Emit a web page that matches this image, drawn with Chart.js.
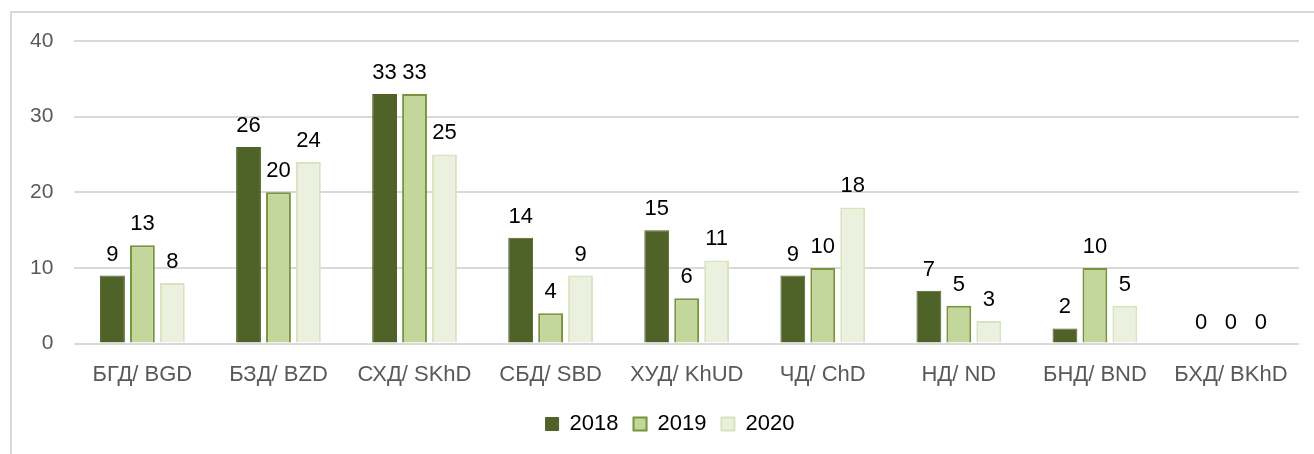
<!DOCTYPE html>
<html>
<head>
<meta charset="utf-8">
<script src="https://cdn.jsdelivr.net/npm/chart.js@4"></script>
<style>
  body { margin: 0; background: #fff; }
  .marco { position: absolute; left: 10px; top: 11px; width: 1320px; height: 460px; border: 2px solid #d9d9d9; box-sizing: border-box; }
  .grafico { position: absolute; left: 0; top: 0; width: 1314px; height: 454px; }
</style>
</head>
<body>
<div class="marco"></div>
<div class="grafico"><canvas id="myChart"></canvas></div>
<script>
const categorias = ["БГД/ BGD", "БЗД/ BZD", "СХД/ SKhD", "СБД/ SBD", "ХУД/ KhUD", "ЧД/ ChD", "НД/ ND", "БНД/ BND", "БХД/ BKhD"]
const anios = ["2018", "2019", "2020"]
const datos2018 = [9, 26, 33, 14, 15, 9, 7, 2, 0]
const datos2019 = [13, 20, 33, 4, 6, 10, 5, 10, 0]
const datos2020 = [8, 24, 25, 9, 11, 18, 3, 5, 0]
const ticksY = [0, 10, 20, 30, 40]
const fuente = "'Liberation Sans', Arial, sans-serif"

// etiquetas de valor sobre cada barra
const etiquetas = {
    id: "etiquetas",
    afterLayout(chart) {
        // la leyenda del original queda un poco a la derecha
        chart.legend.left += 16
        chart.legend.right += 16
    },
    afterDatasetsDraw(chart) {
        const ctx = chart.ctx
        ctx.save()
        ctx.font = "22px " + fuente
        ctx.fillStyle = "#000"
        ctx.textAlign = "center"
        ctx.textBaseline = "alphabetic"
        chart.data.datasets.forEach((ds, i) => {
            chart.getDatasetMeta(i).data.forEach((barra, j) => {
                ctx.fillText(ds.data[j], barra.x, barra.y - 15)
            })
        })
        ctx.restore()
    }
}

const config = {
    type: "bar",
    data: {
        labels: categorias,
        datasets: [
            { label: anios[0], data: datos2018, backgroundColor: "#4f6228", borderColor: "#4f6228", borderWidth: 1 },
            { label: anios[1], data: datos2019, backgroundColor: "#c3d69b", borderColor: "#77933c", borderWidth: 2 },
            { label: anios[2], data: datos2020, backgroundColor: "#ebf1de", borderColor: "#d7e4bd", borderWidth: 2 }
        ]
    },
    options: {
        responsive: true,
        maintainAspectRatio: false,
        animation: false,
        categoryPercentage: 0.66,
        barPercentage: 0.83,
        layout: { padding: { left: 9, right: 15, top: 41, bottom: 9 } },
        plugins: {
            legend: {
                position: "bottom",
                labels: {
                    boxWidth: 13,
                    boxHeight: 13,
                    padding: 15,
                    color: "#000",
                    font: { size: 22, family: fuente }
                }
            },
            tooltip: { enabled: false }
        },
        scales: {
            x: {
                grid: { display: false },
                border: { display: false },
                ticks: { color: "#595959", padding: 10, font: { size: 22, family: fuente } }
            },
            y: {
                min: 0,
                max: 40,
                afterBuildTicks: (eje) => { eje.ticks = ticksY.map(v => ({ value: v })) },
                grid: { color: "#d9d9d9", lineWidth: 2, drawTicks: false },
                border: { display: false },
                ticks: { color: "#595959", padding: 21, font: { size: 21, family: fuente } }
            }
        }
    },
    plugins: [etiquetas]
}

new Chart(document.querySelector("#myChart"), config)
</script>
</body>
</html>
